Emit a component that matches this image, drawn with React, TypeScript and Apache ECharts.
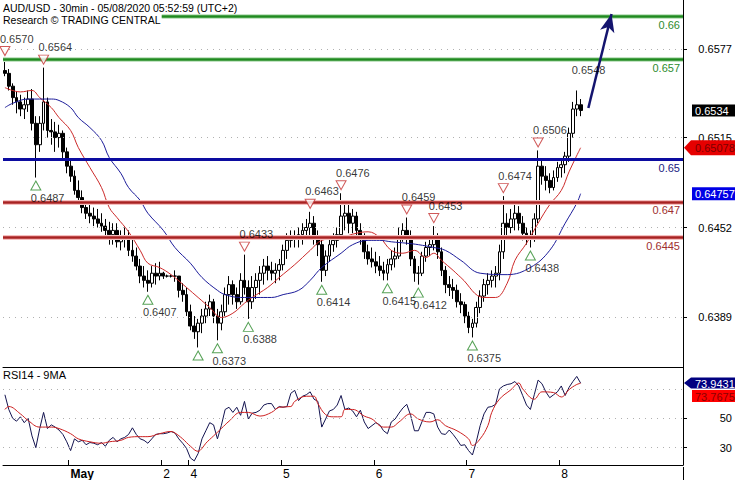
import React, { useEffect, useRef } from 'react';
import * as echarts from 'echarts';

const TITLE = 'AUD/USD - 30min - 05/08/2020 05:52:59 (UTC+2)';
const SUBTITLE = 'Research © TRADING CENTRAL';
const RSI_TITLE = 'RSI14 - 9MA';

// hourly bars, Apr 30 07:00 -> May 8 05:00 (UTC+2)
const FIRST_OPEN = 0.6562;
const highs = [
  0.6570, 0.6563, 0.6553, 0.6547, 0.6545, 0.6543, 0.6548, 0.6549, 0.6530, 0.6530,
  0.6564, 0.6543, 0.6528, 0.6526, 0.6524, 0.6520, 0.6508, 0.6500, 0.6492, 0.6485,
  0.6478, 0.6470, 0.6468, 0.6466, 0.6465, 0.6462, 0.6458, 0.6456, 0.6455, 0.6455,
  0.6450, 0.6452, 0.6450, 0.6445, 0.6438, 0.6430, 0.6425, 0.6422, 0.6425, 0.6427,
  0.6428, 0.6421, 0.6419, 0.6419, 0.6422, 0.6417, 0.6413, 0.6410, 0.6398, 0.6390,
  0.6388, 0.6395, 0.6400, 0.6405, 0.6402, 0.6395, 0.6398, 0.6410, 0.6418, 0.6415,
  0.6410, 0.6420, 0.6433, 0.6415, 0.6418, 0.6420, 0.6425, 0.6430, 0.6432, 0.6428,
  0.6427, 0.6430, 0.6440, 0.6448, 0.6450, 0.6450, 0.6452, 0.6455, 0.6458, 0.6463,
  0.6460, 0.6450, 0.6446, 0.6436, 0.6446, 0.6448, 0.6452, 0.6476, 0.6470, 0.6468,
  0.6465, 0.6463, 0.6455, 0.6448, 0.6440, 0.6438, 0.6435, 0.6432, 0.6428, 0.6430,
  0.6436, 0.6438, 0.6452, 0.6455, 0.6459, 0.6450, 0.6432, 0.6425, 0.6435, 0.6442,
  0.6445, 0.6453, 0.6448, 0.6438, 0.6425, 0.6418, 0.6416, 0.6412, 0.6406, 0.6400,
  0.6393, 0.6388, 0.6400, 0.6408, 0.6416, 0.6420, 0.6422, 0.6425, 0.6440, 0.6474,
  0.6462, 0.6465, 0.6468, 0.6467, 0.6460, 0.6452, 0.6450, 0.6462, 0.6506, 0.6500,
  0.6495, 0.6490, 0.6492, 0.6498, 0.6500, 0.6505, 0.6522, 0.6540, 0.6548, 0.6542,
];
const lows = [
  0.6558, 0.6548, 0.6538, 0.6532, 0.6530, 0.6528, 0.6533, 0.6520, 0.6487, 0.6505,
  0.6520, 0.6515, 0.6510, 0.6505, 0.6508, 0.6500, 0.6490, 0.6484, 0.6475, 0.6470,
  0.6462, 0.6458, 0.6455, 0.6453, 0.6452, 0.6449, 0.6444, 0.6440, 0.6440, 0.6438,
  0.6436, 0.6438, 0.6432, 0.6428, 0.6422, 0.6413, 0.6410, 0.6407, 0.6410, 0.6412,
  0.6415, 0.6416, 0.6417, 0.6417, 0.6414, 0.6403, 0.6400, 0.6390, 0.6380, 0.6374,
  0.6368, 0.6378, 0.6385, 0.6390, 0.6385, 0.6373, 0.6380, 0.6390, 0.6398, 0.6398,
  0.6395, 0.6398, 0.6405, 0.6388, 0.6395, 0.6402, 0.6405, 0.6412, 0.6415, 0.6415,
  0.6413, 0.6415, 0.6422, 0.6430, 0.6438, 0.6438, 0.6438, 0.6440, 0.6444, 0.6446,
  0.6440, 0.6432, 0.6414, 0.6418, 0.6428, 0.6435, 0.6438, 0.6445, 0.6450, 0.6448,
  0.6448, 0.6446, 0.6440, 0.6430, 0.6426, 0.6424, 0.6420, 0.6418, 0.6415, 0.6415,
  0.6422, 0.6424, 0.6430, 0.6442, 0.6440, 0.6425, 0.6414, 0.6412, 0.6418, 0.6428,
  0.6432, 0.6436, 0.6430, 0.6418, 0.6406, 0.6404, 0.6402, 0.6396, 0.6392, 0.6385,
  0.6378, 0.6375, 0.6382, 0.6392, 0.6400, 0.6405, 0.6410, 0.6410, 0.6415, 0.6430,
  0.6446, 0.6448, 0.6450, 0.6450, 0.6443, 0.6440, 0.6438, 0.6442, 0.6455, 0.6482,
  0.6478, 0.6476, 0.6478, 0.6484, 0.6487, 0.6490, 0.6498, 0.6515, 0.6530, 0.6530,
];
const closes = [
  0.6560, 0.6551, 0.6543, 0.6540, 0.6535, 0.6538, 0.6542, 0.6525, 0.6510, 0.6525,
  0.6540, 0.6520, 0.6519, 0.6515, 0.6518, 0.6505, 0.6495, 0.6488, 0.6478, 0.6473,
  0.6466, 0.6462, 0.6460, 0.6458, 0.6455, 0.6453, 0.6450, 0.6447, 0.6450, 0.6442,
  0.6444, 0.6446, 0.6436, 0.6432, 0.6425, 0.6418, 0.6415, 0.6413, 0.6420, 0.6418,
  0.6420, 0.6418, 0.6418, 0.6418, 0.6418, 0.6408, 0.6405, 0.6393, 0.6383, 0.6379,
  0.6385, 0.6390, 0.6395, 0.6400, 0.6390, 0.6385, 0.6393, 0.6405, 0.6412, 0.6405,
  0.6400, 0.6415, 0.6410, 0.6400, 0.6410, 0.6415, 0.6420, 0.6425, 0.6422, 0.6420,
  0.6422, 0.6426, 0.6436, 0.6443, 0.6446, 0.6444, 0.6447, 0.6450, 0.6452, 0.6455,
  0.6446, 0.6440, 0.6422, 0.6432, 0.6440, 0.6443, 0.6447, 0.6460, 0.6462, 0.6455,
  0.6460, 0.6450, 0.6446, 0.6435, 0.6430, 0.6428, 0.6425, 0.6422, 0.6420, 0.6426,
  0.6430, 0.6432, 0.6446, 0.6450, 0.6445, 0.6430, 0.6420, 0.6420, 0.6432, 0.6438,
  0.6440, 0.6446, 0.6435, 0.6422, 0.6412, 0.6410, 0.6408, 0.6400, 0.6398, 0.6390,
  0.6382, 0.6385, 0.6396, 0.6404, 0.6412, 0.6415, 0.6418, 0.6420, 0.6435, 0.6455,
  0.6452, 0.6458, 0.6462, 0.6455, 0.6448, 0.6444, 0.6446, 0.6458, 0.6495, 0.6488,
  0.6485, 0.6480, 0.6487, 0.6494, 0.6496, 0.6502, 0.6518, 0.6535, 0.6538, 0.6534,
];

// moving averages: [bar index, value]
const maRed: [number, number][] = [
  [0, 0.6550], [4, 0.6547], [7, 0.6548], [9, 0.6543], [12, 0.6536], [14, 0.6529], [17, 0.6520],
  [19, 0.6508], [22, 0.6494], [25, 0.6480], [27, 0.6466], [29, 0.6459], [32, 0.6449], [35, 0.6436],
  [37, 0.6427], [40, 0.6424], [43, 0.6419], [47, 0.6410], [50, 0.6403], [53, 0.6396], [56, 0.6389],
  [59, 0.6392], [62, 0.6399], [64, 0.6403], [68, 0.6410], [71, 0.6417], [75, 0.6426], [79, 0.6436],
  [82, 0.6443], [87, 0.6445], [91, 0.6448], [94, 0.6449], [97, 0.6445], [100, 0.6436], [103, 0.6434],
  [106, 0.6436], [109, 0.6431], [111, 0.6434], [113, 0.6429], [116, 0.6422], [118, 0.6417],
  [124, 0.6403], [127, 0.6403], [130, 0.6413], [132, 0.6429], [135, 0.6441], [138, 0.6455],
  [141, 0.6468], [144, 0.6478], [146, 0.6491], [149, 0.650788],
];
const maBlue: [number, number][] = [
  [0, 0.6536], [2, 0.6539], [6, 0.6542], [12, 0.6542], [14, 0.6541], [17, 0.6536], [19, 0.6529],
  [22, 0.6522], [25, 0.6513], [27, 0.6501], [30, 0.6490], [32, 0.6480], [35, 0.6471], [37, 0.6462],
  [41, 0.6450], [44, 0.6438], [48, 0.6427], [51, 0.6417], [55, 0.6408], [57, 0.6405], [61, 0.6403],
  [65, 0.6403], [69, 0.6403], [72, 0.6405], [76, 0.6408], [79, 0.6415], [82, 0.6424], [87, 0.6434],
  [90, 0.6440], [94, 0.6443], [97, 0.6443], [100, 0.6442], [104, 0.6441], [107, 0.6440], [111, 0.6438],
  [114, 0.6436], [118, 0.6429], [123, 0.6420], [130, 0.6419], [136, 0.6424], [141, 0.6436],
  [145, 0.6455], [148, 0.6469], [149, 0.647571],
];

const rsi = [
  66, 56, 50, 48, 51, 47, 50, 38, 30, 43,
  54, 43, 45.5, 44, 42, 39, 34, 28, 36, 34,
  35, 32, 33.5, 33, 32, 33.5, 31, 35, 37, 34,
  36, 37, 39, 43.5, 39, 36, 35, 33, 36, 39,
  39.5, 39.5, 40, 41, 40, 36, 33, 29.5, 23, 21,
  26, 36, 41.5, 47, 45.5, 36, 45, 56, 57.5, 54,
  57.5, 52, 61.5, 49.5, 53.5, 54, 55.5, 59, 60, 60,
  56, 58, 57.5, 58, 67, 69, 62, 65, 66, 68,
  63, 61.5, 44, 49.5, 55, 56, 59, 65.5, 56, 57,
  55, 51, 55.5, 47.5, 43, 45, 47, 45.5, 41.5, 39.5,
  47.5, 49.5, 53.5, 57, 59.5, 52, 41.5, 41.5, 48, 54,
  54, 53, 44, 39.5, 39, 42, 39, 35.5, 31.5, 32,
  28, 25, 34, 45, 53, 57.5, 58, 59.5, 70, 72,
  73, 73.5, 75, 72, 65.5, 59, 56, 66, 76, 73.5,
  68, 64, 66, 68, 72, 65.5, 71, 75, 78.5, 73.9431,
];
const rsiMa: [number, number][] = [
  [0, 56], [1, 58], [4, 53], [6, 48.5], [9, 44], [12, 44], [14, 43], [17, 39.5], [19, 36], [22, 34],
  [25, 33], [27, 34], [30, 35], [32, 37], [35, 37.5], [37, 37.5], [40, 39.5], [43, 41], [44, 40],
  [46, 36], [48, 31], [50, 27.5], [51, 29.5], [52, 33], [54, 38], [56, 43], [58, 48], [61, 54],
  [63, 54], [66, 51.5], [69, 54], [71, 57.5], [74, 58], [75, 61.5], [78, 65], [80, 65], [81, 60],
  [83, 52.5], [85, 51], [87, 51], [88, 56], [90, 56], [93, 51.5], [95, 49.5], [98, 44], [100, 44],
  [102, 47.5], [105, 53], [107, 49.5], [110, 47.5], [112, 49], [114, 45], [117, 41.5], [120, 36],
  [121, 31.5], [123, 36], [125, 45], [126, 54], [128, 63], [131, 69.5], [133, 74], [134, 70],
  [137, 63], [139, 68], [142, 67.5], [144, 64.5], [146, 69.5], [148, 73], [149, 73.7675],
];

const highMarkIdx = [0, 10, 62, 79, 87, 104, 111, 129, 138];
const highMarkVal = [0.6570, 0.6564, 0.6433, 0.6463, 0.6476, 0.6459, 0.6453, 0.6474, 0.6506];
const lowMarkIdx = [8, 37, 55, 63, 82, 99, 107, 121, 136];
const lowMarkVal = [0.6487, 0.6407, 0.6373, 0.6388, 0.6414, 0.6415, 0.6412, 0.6375, 0.6438];
const extraLowIdx = 50;
const extraLowVal = 0.6368;
const lastHighIdx = 148;
const lastHighVal = 0.6548;

const levelValues = [0.66, 0.657, 0.65, 0.647, 0.6445];
const levelLabels = ['0.66', '0.657', '0.65', '0.647', '0.6445'];

const targetFrom: [number, number] = [151, 0.65357];
const targetTo: [number, number] = [157, 0.66016];

const priceTicks = [0.6389, 0.6452, 0.6515, 0.6577];
const rsiGrid = [30, 50, 70];
const rsiLabels = [30, 50];
const lastPrice = 0.6534;
const lastRed = 0.650788;
const lastBlue = 0.647571;
const lastRsi = 73.9431;
const lastRsiMa = 73.7675;

const dayTickIdx = [17, 41, 48, 72, 96, 120, 144];
const dayTickText = ['May', '2', '4', '5', '6', '7', '8'];
const SLOT_COUNT = 176;

const FONT = 'Arial, "Liberation Sans", sans-serif';

export default function App() {
  const ref = useRef<HTMLDivElement>(null);
  useEffect(() => {
    document.body.style.margin = '0';
    const chart = echarts.init(ref.current!, null, { renderer: 'svg' });
    const slots = Array.from({ length: SLOT_COUNT }, (_, i) => 's' + i);
    const candles = closes.map((c, i) => {
      const o = i === 0 ? FIRST_OPEN : closes[i - 1];
      return [o, c, Math.min(lows[i], o, c), Math.max(highs[i], o, c)];
    });
    const tickSet = new Set(dayTickIdx);
    const levelColors = ['#1f8a1f', '#1f8a1f', '#0c0ca0', '#a82222', '#a82222'];
    const levelText = ['#2e8b2e', '#2e8b2e', '#202080', '#a03030', '#a03030'];
    const levelHalo = ['#c4e4c4', '#c4e4c4', null, '#f6c0c0', '#f6c0c0'];
    const DOWN = 'path://M0,0 L10,0 L5,9 Z';
    const UP = 'path://M5,0 L10,9 L0,9 Z';

    const haloItems: any[] = [];
    levelValues.forEach((v, k) => {
      if (levelHalo[k]) haloItems.push({ yAxis: v, lineStyle: { color: levelHalo[k], width: 5, type: 'solid' }, label: { show: false } });
    });
    const lineItems = levelValues.map((v, k) => ({
      yAxis: v,
      lineStyle: { color: levelColors[k], width: k === 2 ? 3 : 2.6, type: 'solid' },
      label: { show: true, formatter: levelLabels[k], color: levelText[k] },
    }));

    const option: any = {
      animation: false,
      backgroundColor: '#fff',
      textStyle: { fontFamily: FONT, fontSize: 11 },
      grid: [
        { left: 3, right: 52, top: 0, height: 367 },
        { left: 3, right: 52, top: 367, height: 100 },
      ],
      xAxis: [
        {
          type: 'category', gridIndex: 0, data: slots, boundaryGap: true,
          axisLine: { show: true, lineStyle: { color: '#000', width: 1 } },
          axisTick: { show: false }, axisLabel: { show: false }, splitLine: { show: false },
        },
        {
          type: 'category', gridIndex: 1, data: slots, boundaryGap: true,
          axisLine: { show: true, lineStyle: { color: '#000', width: 1 } },
          axisTick: {
            show: true, inside: true, length: 5,
            interval: (idx: number) => tickSet.has(idx),
            lineStyle: { color: '#000' },
          },
          axisLabel: {
            interval: (idx: number) => tickSet.has(idx),
            formatter: (_v: string, idx: number) => {
              const k = dayTickIdx.indexOf(idx);
              if (k < 0) return '';
              return k === 0 ? `{b|${dayTickText[k]}}` : dayTickText[k];
            },
            align: 'left', margin: 3, color: '#000', fontSize: 12, fontFamily: FONT,
            rich: { b: { fontWeight: 'bold', fontSize: 12, fontFamily: FONT, color: '#000' } },
          },
          splitLine: { show: false },
        },
      ],
      yAxis: [
        {
          type: 'value', gridIndex: 0, position: 'right', min: 0.63543, max: 0.661138,
          axisLine: { show: true, lineStyle: { color: '#000' } },
          axisTick: { show: true, length: 4, customValues: priceTicks, lineStyle: { color: '#000' } },
          axisLabel: {
            customValues: priceTicks, formatter: (v: number) => v.toFixed(4),
            align: 'right', margin: 49, color: '#000', fontSize: 11, fontFamily: FONT,
          },
          splitLine: { show: false },
        },
        {
          type: 'value', gridIndex: 1, position: 'right', min: 18.2, max: 84.9,
          axisLine: { show: true, lineStyle: { color: '#000' } },
          axisTick: { show: true, length: 4, customValues: rsiLabels, lineStyle: { color: '#000' } },
          axisLabel: {
            customValues: rsiLabels, formatter: (v: number) => String(v),
            align: 'right', margin: 49, color: '#000', fontSize: 11, fontFamily: FONT,
          },
          splitLine: { show: false },
        },
      ],
      series: [
        {
          type: 'line', xAxisIndex: 0, yAxisIndex: 0, data: [], z: 1, silent: true,
          markLine: {
            silent: true, symbol: 'none', precision: 6, label: { show: false },
            lineStyle: { type: [1, 5], color: '#b0b0b0', width: 1 },
            data: priceTicks.map((v) => ({ yAxis: v })),
          },
        },
        {
          type: 'line', xAxisIndex: 1, yAxisIndex: 1, data: [], z: 1, silent: true,
          markLine: {
            silent: true, symbol: 'none', precision: 4, label: { show: false },
            lineStyle: { type: [1, 5], color: '#b0b0b0', width: 1 },
            data: rsiGrid.map((v) => ({ yAxis: v })),
          },
        },
        {
          type: 'candlestick', xAxisIndex: 0, yAxisIndex: 0, data: candles, z: 2,
          barWidth: 3.3,
          itemStyle: { color: '#fff', color0: '#000', borderColor: '#000', borderColor0: '#000', borderWidth: 1 },
        },
        {
          type: 'line', xAxisIndex: 0, yAxisIndex: 0, data: maRed, smooth: 0.4, symbol: 'none', z: 3,
          lineStyle: { color: '#cc2a2a', width: 1 },
        },
        {
          type: 'line', xAxisIndex: 0, yAxisIndex: 0, data: maBlue, smooth: 0.4, symbol: 'none', z: 3,
          lineStyle: { color: '#1c1c9a', width: 1 },
        },
        {
          type: 'line', xAxisIndex: 0, yAxisIndex: 0, data: [], z: 4, silent: true,
          markLine: {
            silent: true, symbol: 'none', precision: 6,
            label: { show: false },
            data: haloItems,
          },
        },
        {
          type: 'line', xAxisIndex: 0, yAxisIndex: 0, data: [], z: 5, silent: true,
          markLine: {
            silent: true, symbol: 'none', precision: 6,
            label: { show: true, position: 'insideEndBottom', distance: 3, fontSize: 11, fontFamily: FONT },
            data: lineItems,
          },
        },
        {
          type: 'line', xAxisIndex: 0, yAxisIndex: 0, data: [], z: 6, silent: true,
          markLine: {
            silent: true, symbol: ['none', 'arrow'], symbolSize: [11, 18], precision: 6,
            label: { show: false },
            lineStyle: { color: '#14146e', width: 2.5, type: 'solid' },
            data: [[{ coord: [slots[targetFrom[0]], targetFrom[1]] }, { coord: [slots[targetTo[0]], targetTo[1]] }]],
          },
        },
        {
          type: 'scatter', xAxisIndex: 0, yAxisIndex: 0, z: 7, silent: true,
          symbol: DOWN, symbolSize: [10, 9], symbolOffset: [0, -8],
          itemStyle: { color: '#fff', borderColor: '#c43030', borderWidth: 1 },
          label: {
            show: true, position: 'top', distance: 2, align: 'left', offset: [-5, 0],
            color: '#000', fontSize: 11, fontFamily: FONT,
            formatter: (p: any) => p.value[1].toFixed(4),
          },
          data: [
            ...highMarkIdx.map((idx, k) => [idx, highMarkVal[k]]),
            { value: [lastHighIdx, lastHighVal], itemStyle: { color: 'rgba(0,0,0,0)', borderColor: 'rgba(0,0,0,0)' } },
          ],
        },
        {
          type: 'scatter', xAxisIndex: 0, yAxisIndex: 0, z: 7, silent: true,
          symbol: UP, symbolSize: [10, 9], symbolOffset: [0, 8],
          itemStyle: { color: '#fff', borderColor: '#2a8a2a', borderWidth: 1 },
          label: {
            show: true, position: 'bottom', distance: 2, align: 'left', offset: [-5, 0],
            color: '#000', fontSize: 11, fontFamily: FONT,
            formatter: (p: any) => p.value[1].toFixed(4),
          },
          data: [
            ...lowMarkIdx.map((idx, k) => [idx, lowMarkVal[k]]),
            { value: [extraLowIdx, extraLowVal], label: { show: false } },
          ],
        },
        {
          type: 'line', xAxisIndex: 1, yAxisIndex: 1, data: rsi, symbol: 'none', z: 3,
          lineStyle: { color: '#141450', width: 1 },
        },
        {
          type: 'line', xAxisIndex: 1, yAxisIndex: 1, data: rsiMa, smooth: 0.4, symbol: 'none', z: 4,
          lineStyle: { color: '#cc2020', width: 1 },
        },
      ],
    };
    chart.setOption(option);

    const py = (v: number) => chart.convertToPixel({ yAxisIndex: 0 } as any, v) as unknown as number;
    const ry = (v: number) => chart.convertToPixel({ yAxisIndex: 1 } as any, v) as unknown as number;
    const AX = 683;
    const tag = (yc: number, h: number, fill: string, text: string, color: string, arrow: boolean) => ({
      type: 'group', z: 100,
      children: [
        arrow
          ? { type: 'polygon', z: 100, shape: { points: [[AX + 1, yc], [AX + 8, yc - h / 2], [735, yc - h / 2], [735, yc + h / 2], [AX + 8, yc + h / 2]] }, style: { fill } }
          : { type: 'rect', z: 100, shape: { x: AX + 9, y: yc - h / 2, width: 735 - AX - 9, height: h }, style: { fill } },
        { type: 'text', z: 101, x: AX + 12, y: yc + 0.5, style: { text, fill: color, fontSize: 11, fontFamily: FONT, verticalAlign: 'middle', align: 'left' } },
      ],
    });
    const yRsi = ry(lastRsi);
    chart.setOption({
      graphic: [
        { type: 'text', z: 100, left: 2, top: 2, style: { text: TITLE, fill: '#000', fontSize: 10.5, fontFamily: FONT, backgroundColor: '#fff', padding: [0, 1] } },
        { type: 'text', z: 100, left: 2, top: 14, style: { text: SUBTITLE, fill: '#000', fontSize: 10.5, fontFamily: FONT, backgroundColor: '#fff', padding: [0, 1, 1, 1] } },
        { type: 'text', z: 100, left: 3, top: 369, style: { text: RSI_TITLE, fill: '#000', fontSize: 11, fontFamily: FONT } },
        tag(py(lastPrice), 12, '#000', lastPrice.toFixed(4), '#fff', false),
        tag(py(lastRed), 15, '#e60000', lastRed.toFixed(6), '#7a0000', true),
        tag(py(lastBlue), 13, '#0000e6', lastBlue.toFixed(6), '#fff', false),
        tag(yRsi, 11, '#000080', lastRsi.toFixed(4), '#fff', true),
        tag(yRsi + 13, 12, '#ff0000', lastRsiMa.toFixed(4), '#8b0000', false),
        { type: 'line', z: 100, shape: { x1: AX + 0.5, y1: 467, x2: AX + 0.5, y2: 480 }, style: { stroke: '#000', lineWidth: 1 } },
      ],
    });
    return () => chart.dispose();
  }, []);
  return <div ref={ref} style={{ width: 735, height: 480 }} />;
}
